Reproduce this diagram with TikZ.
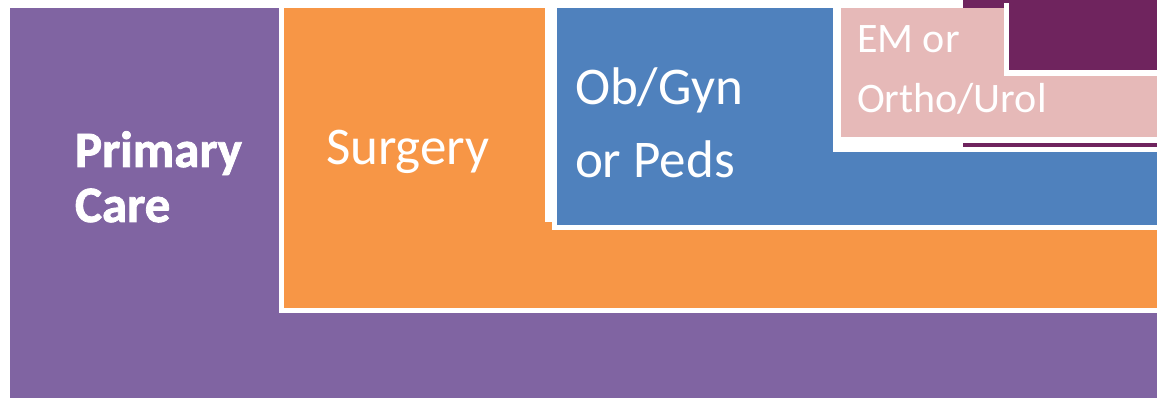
\documentclass[tikz,border=0pt]{standalone}
\usepackage{fontspec}
\setmainfont{Carlito}
\newfontfamily\pcfont[BoldFeatures={FakeBold=1.6}]{Carlito}
\definecolor{pcpurple}{HTML}{8064A2}
\definecolor{surgorange}{HTML}{F79646}
\definecolor{obblue}{HTML}{4F81BD}
\definecolor{empink}{HTML}{E6B9B8}
\definecolor{topplum}{HTML}{6F245E}
\tikzset{
  blk/.style={fill=#1, draw=none},
  lbl/.style={text=white, anchor=base west, inner sep=0pt, outer sep=0pt},
  big/.style={lbl, font=\fontsize{53}{73}\selectfont},
  small/.style={lbl, font=\fontsize{42}{60}\selectfont},
  pc/.style={lbl, font=\pcfont\bfseries\fontsize{51}{55}\selectfont}
}
\begin{document}
\begin{tikzpicture}[x=1pt,y=-1pt]
\useasboundingbox[fill=white] (0,0) rectangle (1157,398);
% primary care
\fill[pcpurple] (10,8) rectangle (1157,398);
% surgery
\fill[white] (279,8) rectangle (1157,313);
\fill[surgorange] (284,8) rectangle (1157,308);
% ob/gyn
\fill[white] (545,8) rectangle (1157,222);
\fill[white] (552,8) rectangle (1157,230);
\fill[obblue] (557,8) rectangle (1157,225);
% EM / ortho
\fill[white] (833,8) rectangle (1157,152);
\fill[topplum] (963,0) rectangle (1157,147);
\fill[white] (833,8) rectangle (1157,143);
\fill[empink] (841,8) rectangle (1157,137);
% top notch
\fill[white] (1004,3) rectangle (1157,76);
\fill[topplum] (1009,0) rectangle (1157,70);
% labels
\node[pc] (pc1) at (75,167) {Primary};
\node[pc] (pc2) at (75,222) {Care};
\node[big] (sg) at (326,165) {Surgery};
\node[big] (ob1) at (575,105) {Ob/Gyn};
\node[big] (ob2) at (575,178) {or Peds};
\node[small] (em1) at (857,53) {EM or};
\node[small] (em2) at (857,113) {Ortho/Urol};
\end{tikzpicture}
\end{document}
